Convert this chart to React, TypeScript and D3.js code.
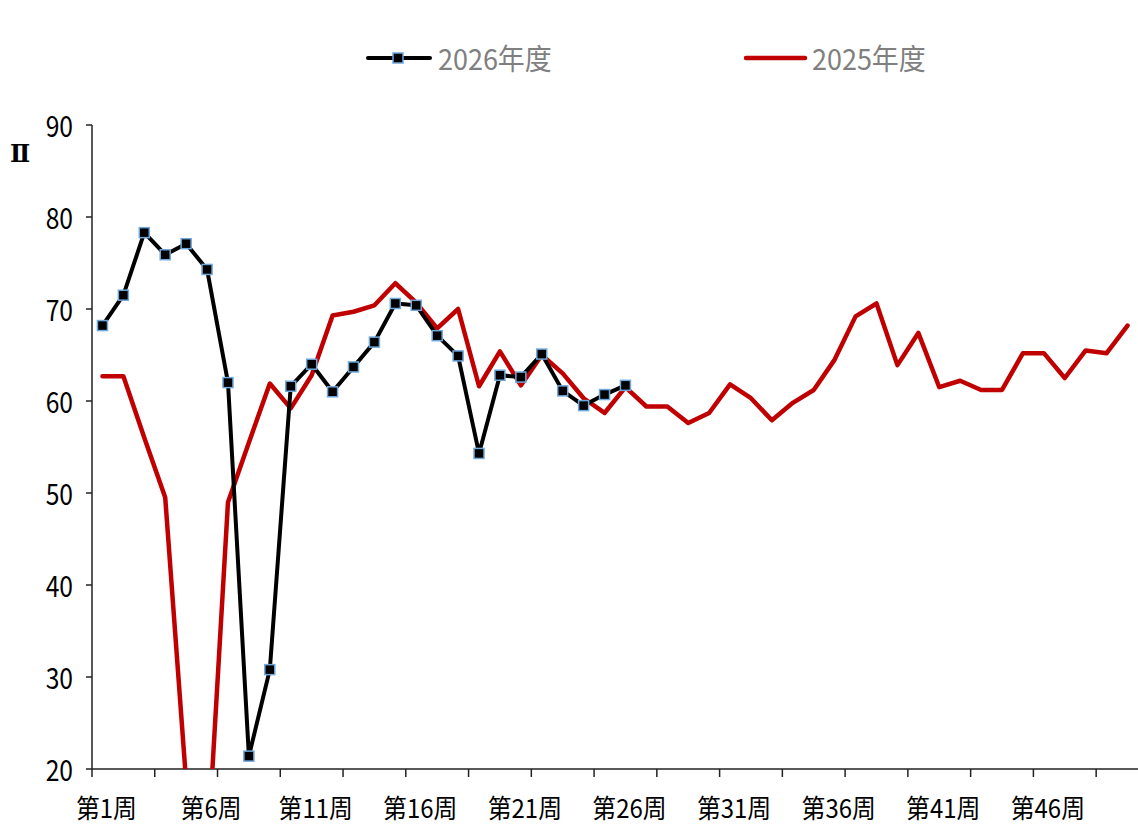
import React from "react";
import * as d3 from "d3";

// Weekly index values, weeks 1..50
const weeks: number[] = Array.from({ length: 50 }, (_, i) => i + 1);

const series2026: number[] = [
  68.2, 71.5, 78.3, 75.9, 77.1, 74.3, 62.0, 21.4, 30.8, 61.6,
  64.0, 61.0, 63.7, 66.4, 70.6, 70.4, 67.1, 64.9, 54.3, 62.8,
  62.6, 65.1, 61.1, 59.5, 60.7, 61.7,
];

const series2025: number[] = [
  62.7, 62.7, 56.0, 49.5, 18.6, 10.0, 49.0, 55.5, 61.9, 59.2,
  62.8, 69.3, 69.7, 70.4, 72.8, 70.7, 67.9, 70.0, 61.6, 65.4,
  61.7, 65.0, 63.0, 60.3, 58.7, 61.5, 59.4, 59.4, 57.6, 58.7,
  61.8, 60.3, 57.9, 59.8, 61.2, 64.5, 69.2, 70.6, 63.9, 67.4,
  61.5, 62.2, 61.2, 61.2, 65.2, 65.2, 62.5, 65.5, 65.2, 68.2,
];

const yTicks: number[] = [20, 30, 40, 50, 60, 70, 80, 90];
const labelWeeks: number[] = [1, 6, 11, 16, 21, 26, 31, 36, 41, 46];
const legendNames: string[] = ["2026年度", "2025年度"];
const yUnit = "Ⅱ";

const W = 1138;
const H = 827;
const left = 92;
const right = 1138;
const top = 125;
const bottom = 769;

const FONT = "'Noto Sans CJK SC', sans-serif";
const RED = "#C00000";

export default function App() {
  const x = d3.scaleBand<number>().domain(weeks).range([left, right]).padding(0);
  const bw = x.bandwidth();
  const cx = (w: number) => (x(w) as number) + bw / 2;
  const y = d3.scaleLinear().domain([20, 90]).range([bottom, top]);

  const line = d3
    .line<number>()
    .x((_, i) => cx(weeks[i]))
    .y((v) => y(v));

  // tick marks on category boundaries, every third week
  const tickIdx = weeks.filter((w) => (w - 1) % 3 === 0);

  return (
    <svg
      width={W}
      height={H}
      style={{ position: "absolute", left: 0, top: 0, background: "#fff" }}
    >
      <defs>
        <clipPath id="plot">
          <rect x={left} y={0} width={right - left} height={bottom} />
        </clipPath>
      </defs>

      {/* legend */}
      <g>
        <line x1={368} x2={430} y1={58} y2={58} stroke="#000" strokeWidth={4} strokeLinecap="round" />
        <rect x={398 - 5} y={58 - 5} width={10} height={10} fill="#000" stroke="#6FA8DC" strokeWidth={1.5} />
        <text transform="translate(438,58) scale(0.93,1)" dominantBaseline="central" fontFamily={FONT} fontSize={29} fill="#7F7F7F">
          {legendNames[0]}
        </text>
        <line x1={746} x2={805} y1={58} y2={58} stroke={RED} strokeWidth={4.5} strokeLinecap="round" />
        <text transform="translate(812,58) scale(0.93,1)" dominantBaseline="central" fontFamily={FONT} fontSize={29} fill="#7F7F7F">
          {legendNames[1]}
        </text>
      </g>

      {/* y unit */}
      <text x={20} y={153} textAnchor="middle" dominantBaseline="central" fontFamily="'DejaVu Serif', serif" fontWeight="bold" fontSize={24} fill="#000">
        {yUnit}
      </text>

      {/* y axis */}
      <line x1={left} x2={left} y1={top} y2={bottom} stroke="#222" strokeWidth={1.5} />
      {yTicks.map((t) => (
        <g key={t}>
          <line x1={left - 6} x2={left} y1={y(t)} y2={y(t)} stroke="#222" strokeWidth={1.5} />
          <text
            transform={`translate(73,${y(t)}) scale(0.85,1)`}
            textAnchor="end"
            dominantBaseline="central"
            fontFamily={FONT}
            fontSize={29}
            fill="#000"
          >
            {t}
          </text>
        </g>
      ))}

      {/* x axis */}
      <line x1={left} x2={right} y1={bottom} y2={bottom} stroke="#222" strokeWidth={1.5} />
      {tickIdx.map((w) => (
        <line key={w} x1={x(w) as number} x2={x(w) as number} y1={bottom} y2={bottom + 8} stroke="#222" strokeWidth={1.5} />
      ))}
      {labelWeeks.map((w) => (
        <text
          key={w}
          transform={`translate(${cx(w) + 4},807) scale(0.92,1)`}
          textAnchor="middle"
          dominantBaseline="central"
          fontFamily={FONT}
          fontSize={26}
          fill="#000"
        >
          {`第${w}周`}
        </text>
      ))}

      {/* series */}
      <g clipPath="url(#plot)">
        <path d={line(series2025) || ""} fill="none" stroke={RED} strokeWidth={4.5} strokeLinejoin="round" strokeLinecap="round" />
        <path d={line(series2026) || ""} fill="none" stroke="#000" strokeWidth={4} strokeLinejoin="round" />
        {series2026.map((v, i) => (
          <rect
            key={i}
            x={cx(weeks[i]) - 5}
            y={y(v) - 5}
            width={10}
            height={10}
            fill="#000"
            stroke="#6FA8DC"
            strokeWidth={1.5}
          />
        ))}
      </g>
    </svg>
  );
}
